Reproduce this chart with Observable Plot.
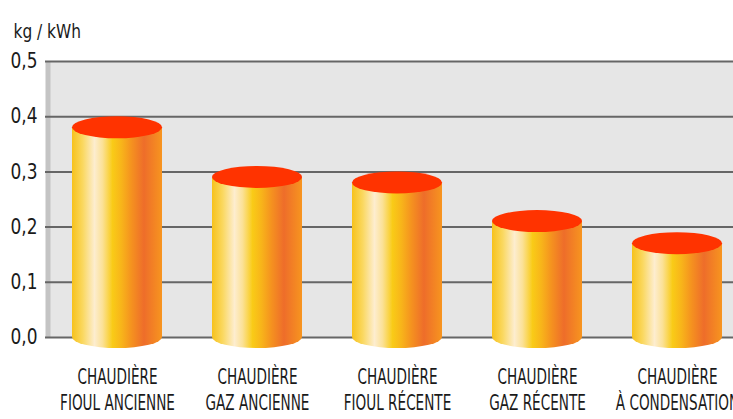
<!DOCTYPE html>
<html><head><meta charset="utf-8">
<script src="https://cdn.jsdelivr.net/npm/d3@7"></script>
<script src="https://cdn.jsdelivr.net/npm/@observablehq/plot@0.6"></script>
<style>
body{margin:0;background:#fff;}
svg{overflow:hidden;}
</style></head>
<body><div id="chart"></div>
<script>
const categories = ["fioul-ancienne","gaz-ancienne","fioul-recente","gaz-recente","condensation"];
const values = [0.38, 0.29, 0.28, 0.21, 0.17];
const labelLine1 = ["CHAUDIÈRE","CHAUDIÈRE","CHAUDIÈRE","CHAUDIÈRE","CHAUDIÈRE"];
const labelLine2 = ["FIOUL ANCIENNE","GAZ ANCIENNE","FIOUL RÉCENTE","GAZ RÉCENTE","À CONDENSATION"];
const yTicks = [0, 0.1, 0.2, 0.3, 0.4, 0.5];
const unitLabel = "kg / kWh";

const data = categories.map((c, i) => ({cat: c, val: values[i], label: labelLine1[i] + "\n" + labelLine2[i]}));
const fontFamily = "'Liberation Sans Narrow','DejaVu Sans Condensed','Liberation Sans',sans-serif";

function squeeze(k) {
  return function(index, scales, vals, dims, context, next) {
    const g = next(index, scales, vals, dims, context);
    d3.select(g).selectAll("text").each(function() {
      const t = this.getAttribute("transform") || "";
      this.setAttribute("transform", t + ` scale(${k},1)`);
    });
    return g;
  };
}

function cylinders(index, scales, vals, dims, context) {
  let bw = scales.x.bandwidth;
  if (typeof bw === "function") bw = bw();
  const g = d3.create("svg:g");
  const grad = g.append("defs").append("linearGradient").attr("id", "cylGrad")
    .attr("x1", 0).attr("x2", 1).attr("y1", 0).attr("y2", 0);
  [[0,"#f7c21c"],[0.12,"#fad860"],[0.25,"#fdedcf"],[0.34,"#fbe196"],[0.45,"#f9cb17"],
   [0.55,"#f8b41a"],[0.66,"#f5921f"],[0.8,"#ee6d2a"],[1,"#f7951f"]].forEach(([o,c]) =>
    grad.append("stop").attr("offset", o).attr("stop-color", c));
  const ry = 11;
  for (const i of index) {
    const x0 = vals.x[i], x1 = x0 + bw;
    const yt = Math.min(vals.y1[i], vals.y2[i]);
    const yb = Math.max(vals.y1[i], vals.y2[i]);
    const rx = bw / 2;
    g.append("path")
      .attr("d", `M${x0},${yt}L${x0},${yb}A${rx},${ry} 0 0 0 ${x1},${yb}L${x1},${yt}Z`)
      .attr("fill", "url(#cylGrad)");
    g.append("ellipse").attr("cx", x0 + rx).attr("cy", yt).attr("rx", rx).attr("ry", ry)
      .attr("fill", "#ff3300");
  }
  return g.node();
}

const chart = Plot.plot({
  width: 733,
  height: 419,
  marginLeft: 50,
  marginRight: 0,
  marginTop: 61,
  marginBottom: 82,
  style: {fontFamily, fontSize: "21px", color: "#1a1a1a", background: "#fff", overflow: "hidden"},
  x: {domain: categories, range: [47, 747], paddingInner: 50/140, paddingOuter: 25/140, axis: null},
  y: {domain: [0, 0.5], axis: null},
  marks: [
    Plot.frame({fill: "#c4c4c4", stroke: null, dx: -5}),
    Plot.frame({fill: "#e6e6e6", stroke: null}),
    Plot.ruleY(yTicks, {stroke: "#666", strokeWidth: 2, insetLeft: -5}),
    Plot.axisY(yTicks, {label: null, tickSize: 0, tickPadding: 13, fontSize: 21, fill: "#1a1a1a",
      tickFormat: d => d.toFixed(1).replace(".", ","), render: squeeze(0.9)}),
    Plot.barY(data, {x: "cat", y: "val", render: cylinders}),
    Plot.text(data, {x: "cat", text: "label", frameAnchor: "bottom", lineAnchor: "top",
      dy: 27, lineHeight: 1.28, fontSize: 21, fill: "#1a1a1a", render: squeeze(0.72)}),
    Plot.text([unitLabel], {frameAnchor: "top-left", textAnchor: "start", dx: -37, dy: -37,
      fontSize: 19, fill: "#1a1a1a", render: squeeze(0.9)})
  ]
});
document.getElementById("chart").appendChild(chart);
</script></body></html>
